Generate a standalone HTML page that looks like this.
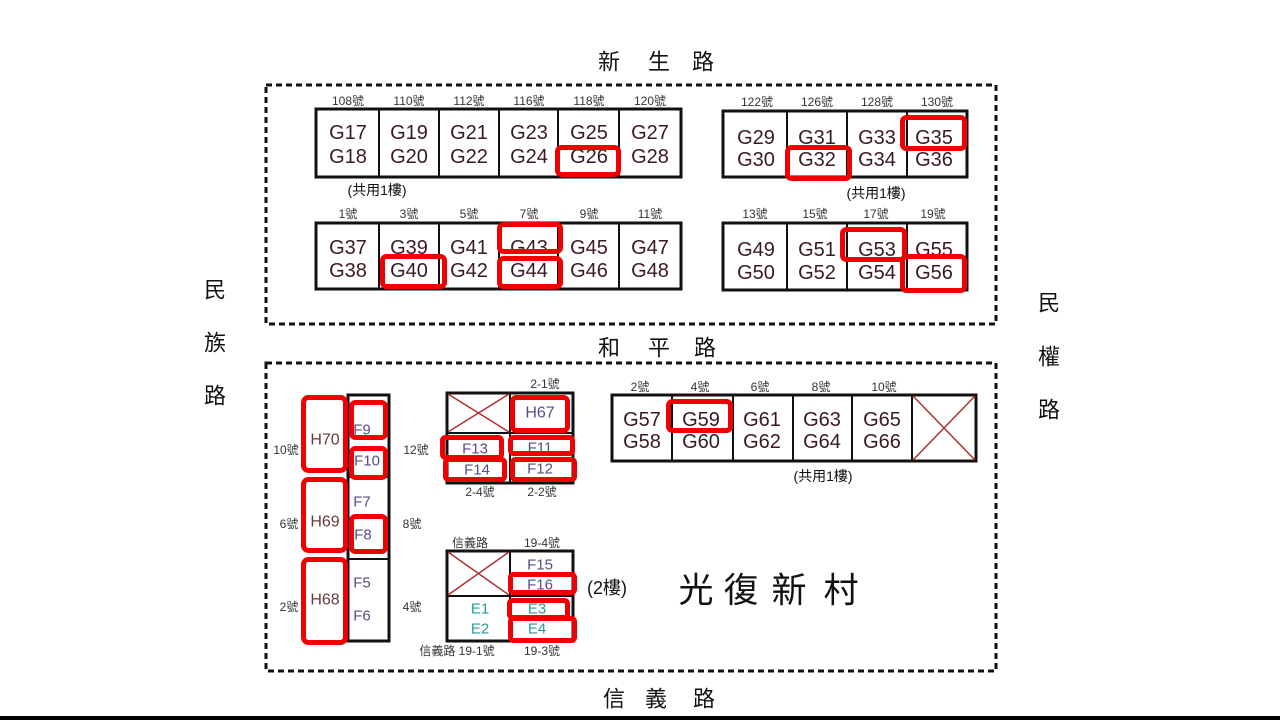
<!DOCTYPE html>
<html><head><meta charset="utf-8"><style>
html,body{margin:0;padding:0;background:#fff;}
svg{display:block;}
text{font-family:"Liberation Sans","Noto Sans CJK TC",sans-serif;}
.n{font-size:12px;fill:#333;}
.g{font-size:20px;fill:#3b1a1f;}
.h{font-size:16px;fill:#6b3a3a;}
.f{font-size:15px;fill:#5b4a8a;}
.e{font-size:15px;fill:#2a9a9a;}
.r{font-size:22px;fill:#111;}
.s{font-size:14px;fill:#111;}
.cell{fill:#fff;stroke:#111;stroke-width:3;}
.div{stroke:#111;stroke-width:2;}
.red{fill:none;stroke:#f00000;stroke-width:5;}
.x{stroke:#b03030;stroke-width:1.5;}
</style></head><body>
<svg width="1280" height="720" viewBox="0 0 1280 720" xmlns="http://www.w3.org/2000/svg">
<g text-anchor="middle" dominant-baseline="central">

<!-- dashed boxes -->
<rect x="266" y="85" width="730" height="239" fill="none" stroke="#111" stroke-width="3" stroke-dasharray="6 4"/>
<rect x="266" y="363" width="730" height="308" fill="none" stroke="#111" stroke-width="3" stroke-dasharray="6 4"/>

<!-- road labels -->
<text class="r" x="609" y="62">新</text><text class="r" x="659" y="62">生</text><text class="r" x="703" y="62">路</text>
<text class="r" x="609" y="348">和</text><text class="r" x="659" y="348">平</text><text class="r" x="705" y="348">路</text>
<text class="r" x="614" y="699">信</text><text class="r" x="656" y="699">義</text><text class="r" x="704" y="699">路</text>
<text class="r" x="215" y="290">民</text><text class="r" x="215" y="343">族</text><text class="r" x="215" y="396">路</text>
<text class="r" x="1049" y="303">民</text><text class="r" x="1049" y="357">權</text><text class="r" x="1049" y="410">路</text>
<rect x="0" y="716" width="1280" height="4" fill="#000"/>

<!-- top-left block row1 -->
<rect class="cell" x="316" y="109" width="365" height="68"/>
<line class="div" x1="379" y1="109" x2="379" y2="177"/><line class="div" x1="439" y1="109" x2="439" y2="177"/>
<line class="div" x1="499" y1="109" x2="499" y2="177"/><line class="div" x1="558" y1="109" x2="558" y2="177"/>
<line class="div" x1="619" y1="109" x2="619" y2="177"/>
<text class="n" x="348" y="101">108號</text><text class="n" x="409" y="101">110號</text><text class="n" x="469" y="101">112號</text>
<text class="n" x="529" y="101">116號</text><text class="n" x="589" y="101">118號</text><text class="n" x="650" y="101">120號</text>
<text class="g" x="348" y="133">G17</text><text class="g" x="409" y="133">G19</text><text class="g" x="469" y="133">G21</text>
<text class="g" x="529" y="133">G23</text><text class="g" x="589" y="133">G25</text><text class="g" x="650" y="133">G27</text>
<text class="g" x="348" y="157">G18</text><text class="g" x="409" y="157">G20</text><text class="g" x="469" y="157">G22</text>
<text class="g" x="529" y="157">G24</text><text class="g" x="589" y="157">G26</text><text class="g" x="650" y="157">G28</text>
<text class="s" x="377" y="190">(共用1樓)</text>

<!-- top-left block row2 -->
<rect class="cell" x="316" y="223" width="365" height="66"/>
<line class="div" x1="379" y1="223" x2="379" y2="289"/><line class="div" x1="439" y1="223" x2="439" y2="289"/>
<line class="div" x1="499" y1="223" x2="499" y2="289"/><line class="div" x1="558" y1="223" x2="558" y2="289"/>
<line class="div" x1="619" y1="223" x2="619" y2="289"/>
<text class="n" x="348" y="214">1號</text><text class="n" x="409" y="214">3號</text><text class="n" x="469" y="214">5號</text>
<text class="n" x="529" y="214">7號</text><text class="n" x="589" y="214">9號</text><text class="n" x="650" y="214">11號</text>
<text class="g" x="348" y="248">G37</text><text class="g" x="409" y="248">G39</text><text class="g" x="469" y="248">G41</text>
<text class="g" x="529" y="248">G43</text><text class="g" x="589" y="248">G45</text><text class="g" x="650" y="248">G47</text>
<text class="g" x="348" y="271">G38</text><text class="g" x="409" y="271">G40</text><text class="g" x="469" y="271">G42</text>
<text class="g" x="529" y="271">G44</text><text class="g" x="589" y="271">G46</text><text class="g" x="650" y="271">G48</text>

<!-- top-right block row1 -->
<rect class="cell" x="723" y="111" width="244" height="66"/>
<line class="div" x1="787" y1="111" x2="787" y2="177"/><line class="div" x1="847" y1="111" x2="847" y2="177"/>
<line class="div" x1="907" y1="111" x2="907" y2="177"/>
<text class="n" x="757" y="102">122號</text><text class="n" x="817" y="102">126號</text><text class="n" x="877" y="102">128號</text><text class="n" x="937" y="102">130號</text>
<text class="g" x="756" y="138">G29</text><text class="g" x="817" y="138">G31</text><text class="g" x="877" y="138">G33</text><text class="g" x="934" y="138">G35</text>
<text class="g" x="756" y="160">G30</text><text class="g" x="817" y="160">G32</text><text class="g" x="877" y="160">G34</text><text class="g" x="934" y="160">G36</text>
<text class="s" x="876" y="193">(共用1樓)</text>

<!-- top-right block row2 -->
<rect class="cell" x="723" y="223" width="244" height="67"/>
<line class="div" x1="787" y1="223" x2="787" y2="290"/><line class="div" x1="847" y1="223" x2="847" y2="290"/>
<line class="div" x1="907" y1="223" x2="907" y2="290"/>
<text class="n" x="755" y="214">13號</text><text class="n" x="815" y="214">15號</text><text class="n" x="876" y="214">17號</text><text class="n" x="933" y="214">19號</text>
<text class="g" x="756" y="250">G49</text><text class="g" x="817" y="250">G51</text><text class="g" x="877" y="250">G53</text><text class="g" x="934" y="250">G55</text>
<text class="g" x="756" y="273">G50</text><text class="g" x="817" y="273">G52</text><text class="g" x="877" y="273">G54</text><text class="g" x="934" y="273">G56</text>

<!-- bottom G block -->
<rect class="cell" x="612" y="395" width="364" height="66"/>
<line class="div" x1="672" y1="395" x2="672" y2="461"/><line class="div" x1="733" y1="395" x2="733" y2="461"/>
<line class="div" x1="793" y1="395" x2="793" y2="461"/><line class="div" x1="852" y1="395" x2="852" y2="461"/>
<line class="div" x1="912" y1="395" x2="912" y2="461"/>
<line class="x" x1="913" y1="396" x2="975" y2="460"/><line class="x" x1="975" y1="396" x2="913" y2="460"/>
<text class="n" x="640" y="387">2號</text><text class="n" x="700" y="387">4號</text><text class="n" x="760" y="387">6號</text>
<text class="n" x="821" y="387">8號</text><text class="n" x="884" y="387">10號</text>
<text class="g" x="642" y="420">G57</text><text class="g" x="701" y="420">G59</text><text class="g" x="762" y="420">G61</text>
<text class="g" x="822" y="420">G63</text><text class="g" x="882" y="420">G65</text>
<text class="g" x="642" y="442">G58</text><text class="g" x="701" y="442">G60</text><text class="g" x="762" y="442">G62</text>
<text class="g" x="822" y="442">G64</text><text class="g" x="882" y="442">G66</text>
<text class="s" x="823" y="476">(共用1樓)</text>

<!-- left column -->
<rect class="cell" x="348" y="395" width="41" height="246"/>
<line class="div" x1="348" y1="477" x2="389" y2="477"/>
<line class="div" x1="348" y1="559" x2="389" y2="559"/>
<text class="h" x="325" y="440">H70</text><text class="h" x="325" y="522">H69</text><text class="h" x="325" y="600">H68</text>
<text class="f" x="362" y="430">F9</text><text class="f" x="367" y="461">F10</text>
<text class="f" x="362" y="502">F7</text><text class="f" x="363" y="535">F8</text>
<text class="f" x="362" y="583">F5</text><text class="f" x="362" y="616">F6</text>
<text class="n" x="286" y="450">10號</text><text class="n" x="289" y="524">6號</text><text class="n" x="289" y="607">2號</text>
<text class="n" x="416" y="450">12號</text><text class="n" x="412" y="524">8號</text><text class="n" x="412" y="607">4號</text>

<!-- middle block (2-x) -->
<rect class="cell" x="447" y="393" width="126" height="90"/>
<line class="div" x1="510" y1="393" x2="510" y2="483"/>
<line class="div" x1="447" y1="433" x2="573" y2="433"/>
<line class="x" x1="448" y1="394" x2="509" y2="432"/><line class="x" x1="509" y1="394" x2="448" y2="432"/>
<text class="n" x="545" y="384">2-1號</text>
<text class="n" x="480" y="492">2-4號</text><text class="n" x="542" y="492">2-2號</text>
<text class="f" x="540" y="413" style="font-size:16px">H67</text>
<text class="f" x="475" y="449">F13</text><text class="f" x="477" y="470">F14</text>
<text class="f" x="540" y="448">F11</text><text class="f" x="540" y="469">F12</text>

<!-- bottom middle block (19-x) -->
<rect class="cell" x="447" y="551" width="126" height="90"/>
<line class="div" x1="510" y1="551" x2="510" y2="641"/>
<line class="div" x1="447" y1="596" x2="573" y2="596"/>
<line class="x" x1="448" y1="552" x2="509" y2="595"/><line class="x" x1="509" y1="552" x2="448" y2="595"/>
<text class="n" x="470" y="543">信義路</text><text class="n" x="542" y="543">19-4號</text>
<text class="n" x="457" y="651">信義路 19-1號</text><text class="n" x="542" y="651">19-3號</text>
<text class="f" x="540" y="565">F15</text><text class="f" x="540" y="585">F16</text>
<text class="e" x="480" y="609">E1</text><text class="e" x="480" y="629">E2</text>
<text class="e" x="537" y="609">E3</text><text class="e" x="537" y="629">E4</text>
<text x="607" y="588" style="font-size:18px;fill:#111">(2樓)</text>

<!-- title -->
<text x="696" y="591" style="font-size:35px;fill:#111">光</text>
<text x="741" y="591" style="font-size:35px;fill:#111">復</text>
<text x="789" y="591" style="font-size:35px;fill:#111">新</text>
<text x="841" y="591" style="font-size:35px;fill:#111">村</text>

<!-- red highlights -->
<rect class="red" x="557.5" y="147.5" width="61" height="27" rx="4"/>
<rect class="red" x="382.5" y="256.5" width="62" height="30" rx="4"/>
<rect class="red" x="499.5" y="224.5" width="61" height="27" rx="4"/>
<rect class="red" x="499.5" y="258.5" width="61" height="28" rx="4"/>
<rect class="red" x="902.5" y="117.5" width="62" height="31" rx="4"/>
<rect class="red" x="787.5" y="147.5" width="62" height="31" rx="4"/>
<rect class="red" x="842.5" y="229.5" width="62" height="30" rx="4"/>
<rect class="red" x="902.5" y="256.5" width="62" height="34" rx="4"/>
<rect class="red" x="668.5" y="401.5" width="62" height="29" rx="4"/>
<rect class="red" x="303.5" y="397.5" width="42" height="73" rx="5"/>
<rect class="red" x="303.5" y="479.5" width="42" height="71" rx="5"/>
<rect class="red" x="303.5" y="559.5" width="42" height="83" rx="5"/>
<rect class="red" x="351.5" y="402.5" width="34" height="35" rx="4"/>
<rect class="red" x="351.5" y="448.5" width="34" height="29" rx="4"/>
<rect class="red" x="351.5" y="516.5" width="34" height="35" rx="4"/>
<rect class="red" x="512.5" y="397.5" width="55" height="33" rx="4"/>
<rect class="red" x="442.5" y="437.5" width="59" height="20" rx="3"/>
<rect class="red" x="445.5" y="459.5" width="59" height="20" rx="3"/>
<rect class="red" x="510.5" y="437.5" width="62" height="16" rx="3"/>
<rect class="red" x="512.5" y="459.5" width="62" height="20" rx="3"/>
<rect class="red" x="510.5" y="574.5" width="64" height="18" rx="3"/>
<rect class="red" x="509.5" y="600.5" width="58" height="17" rx="3"/>
<rect class="red" x="510.5" y="618.5" width="64" height="22" rx="3"/>
</g>
</svg>
</body></html>
